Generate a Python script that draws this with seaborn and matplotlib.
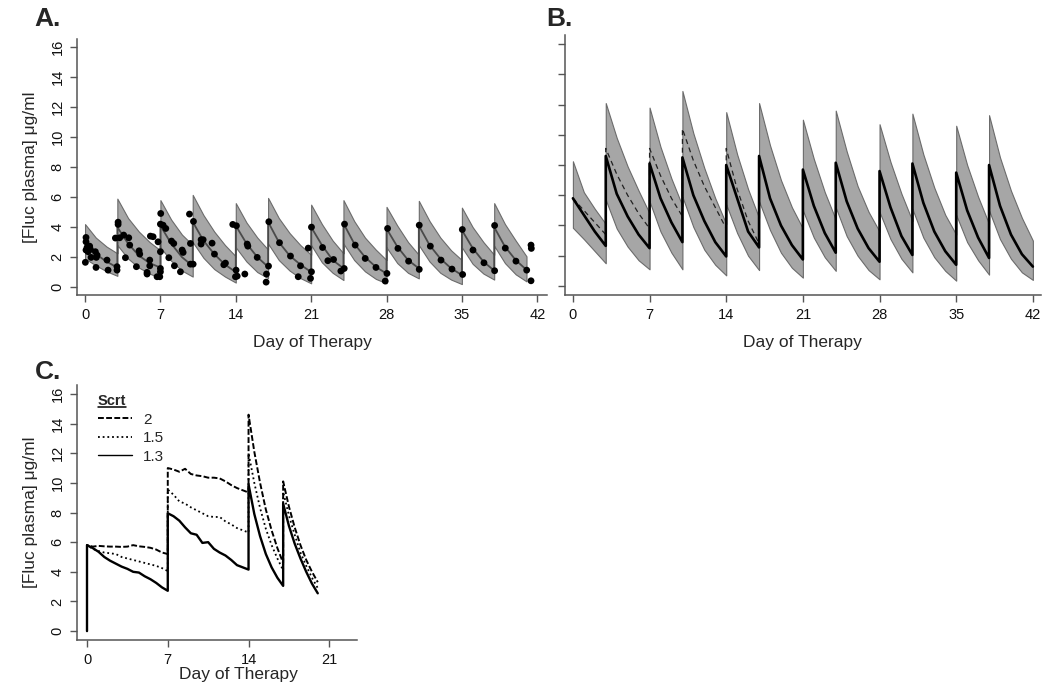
import matplotlib
matplotlib.use('Agg')
import matplotlib.pyplot as plt
from matplotlib.lines import Line2D
import seaborn as sns

# ---------------- data ----------------
# Panel A: prediction band (daily points, dose days repeated for the jumps)
a_time = [0, 1, 2, 3, 3, 4, 5, 6, 7, 7, 8, 9, 10, 10, 11, 12, 13, 14,
          14, 15, 16, 17, 17, 18, 19, 20, 21, 21, 22, 23, 24, 24, 25, 26, 27, 28,
          28, 29, 30, 31, 31, 32, 33, 34, 35, 35, 36, 37, 38, 38, 39, 40, 41]
a_hi = [4.2, 3.3, 2.7, 2.25, 5.9, 4.6, 3.7, 3.0, 2.45, 5.8, 4.5, 3.5, 2.8,
        6.15, 4.8, 3.7, 2.8, 2.05, 5.6, 4.3, 3.3, 2.5, 5.95, 4.6, 3.6, 2.8, 2.15,
        5.5, 4.2, 3.1, 2.25, 5.8, 4.4, 3.3, 2.5, 1.8, 5.35, 4.1, 3.0, 2.15,
        5.75, 4.4, 3.3, 2.45, 1.8, 5.3, 4.0, 3.0, 2.15, 5.6, 4.2, 3.1, 2.05]
a_lo = [1.9, 1.45, 1.05, 0.75, 2.8, 1.9, 1.3, 0.9, 0.6, 2.65, 1.75, 1.1, 0.7,
        3.0, 1.95, 1.2, 0.7, 0.3, 2.65, 1.7, 1.0, 0.6, 2.9, 1.8, 1.1, 0.6, 0.25,
        2.8, 1.65, 0.95, 0.47, 2.9, 1.8, 1.05, 0.55, 0.25, 2.65, 1.6, 0.95, 0.58,
        2.8, 1.7, 0.95, 0.5, 0.2, 2.65, 1.55, 0.9, 0.5, 2.75, 1.6, 0.85, 0.38]
a_med = [2.95, 2.2, 1.7, 1.3, 4.0, 2.9, 2.1, 1.6, 1.3, 4.1, 2.9, 2.0, 1.4,
         4.35, 3.1, 2.2, 1.5, 1.0, 4.1, 2.9, 2.0, 1.35, 4.35, 3.0, 2.1, 1.5, 1.0,
         4.0, 2.8, 1.8, 1.25, 4.25, 2.9, 2.0, 1.35, 0.9, 3.9, 2.7, 1.8, 1.25,
         4.1, 2.8, 1.9, 1.25, 0.8, 3.8, 2.6, 1.7, 1.1, 4.0, 2.7, 1.8, 1.15]

# Panel A: observed concentrations
obs_day = [0.09, 0.09, 0.19, 0.43, 0.09, 0.28, 0.5, 0.56, 0.96, 1.05, 1.12, 0.03,
           1.02, 2.04, 2.14, 2.97, 2.97,
           3.07, 3.07, 2.82, 3.22, 3.59, 4.06, 3.75, 4.15, 5.02, 5.08, 4.77, 6.07,
           6.32, 6.78, 6.01, 6.01, 5.76, 5.76, 6.69, 6.94, 7.0, 7.0,
           7.03, 7.0, 7.25, 7.5, 7.0, 8.03, 8.24, 7.78, 8.3, 9.02, 9.11, 8.86, 9.7,
           9.79, 9.79, 10.04,
           10.07, 10.78, 10.97, 10.78, 11.8, 12.02, 12.89, 13.04, 13.72, 14.06,
           14.03, 13.97, 14.13, 14.84, 15.06, 15.12, 15.99, 16.85, 16.82, 17.04,
           17.07, 18.06, 19.08, 19.8, 20.01, 20.73, 21.03, 21.03, 20.94,
           22.06, 22.55, 23.08, 23.76, 24.07, 24.1, 25.09, 26.02, 27.02, 28.04,
           27.88, 28.1, 29.06, 30.05, 31.04, 31.04, 32.07, 33.06, 34.08, 35.04,
           35.07, 36.03, 37.05, 38.04, 38.04, 39.03, 40.02, 41.02, 41.42, 41.45, 41.42]
obs_conc = [3.31, 3.02, 2.65, 2.73, 2.47, 2.36, 2.51, 1.98, 2.36, 1.98, 2.13, 1.65,
            1.31, 1.8, 1.13, 1.36, 1.13,
            4.33, 4.18, 3.27, 3.29, 3.47, 3.29, 1.96, 2.8, 2.42, 2.2, 1.36, 3.4,
            3.36, 3.02, 1.8, 1.42, 0.98, 0.87, 0.69, 0.69, 1.24, 1.02,
            4.91, 4.2, 4.13, 3.91, 2.36, 3.07, 2.91, 1.96, 1.42, 2.47, 2.31, 1.02, 4.87,
            2.91, 1.53, 1.53,
            4.38, 3.16, 3.16, 2.87, 2.93, 2.2, 1.49, 1.6, 4.18, 4.09,
            1.13, 0.69, 0.73, 0.87, 2.87, 2.73, 1.98, 0.87, 0.33, 1.4,
            4.36, 2.96, 2.07, 0.69, 1.42, 2.6, 4.0, 1.02, 0.58,
            2.64, 1.76, 1.84, 1.07, 1.24, 4.2, 2.8, 1.91, 1.31, 0.91,
            0.4, 3.91, 2.58, 1.73, 4.13, 1.18, 2.73, 1.8, 1.2, 3.84,
            0.84, 2.47, 1.62, 1.09, 4.11, 2.6, 1.73, 1.13, 2.8, 2.58, 0.42]

# Panel B: simulated band, median and comparison (dashed) profile
b_time = [0, 1, 2, 3, 3, 4, 5, 6, 7, 7, 8, 9, 10, 10, 11, 12, 13, 14,
          14, 15, 16, 17, 17, 18, 19, 20, 21, 21, 22, 23, 24, 24, 25, 26, 27, 28,
          28, 29, 30, 31, 31, 32, 33, 34, 35, 35, 36, 37, 38, 38, 39, 40, 41, 42]
b_hi = [8.25, 6.2, 5.1, 4.1, 12.1, 9.8, 7.9, 6.3, 4.8, 11.8, 9.2, 7.1, 5.3,
        12.9, 10.1, 7.8, 5.8, 4.1, 11.5, 8.7, 6.4, 4.5, 12.1, 9.3, 7.0, 5.2, 3.8,
        11.0, 8.4, 6.2, 4.4, 11.6, 8.9, 6.6, 4.9, 3.6, 10.7, 8.2, 6.1, 4.3,
        11.4, 8.7, 6.5, 4.7, 3.4, 10.6, 8.0, 5.9, 4.1, 11.3, 8.5, 6.3, 4.5, 3.0]
b_lo = [3.85, 3.1, 2.3, 1.5, 5.7, 3.8, 2.6, 1.7, 1.1, 5.6, 3.6, 2.2, 1.1,
        5.9, 3.9, 2.4, 1.4, 0.7, 5.4, 3.5, 2.0, 1.05, 5.6, 3.7, 2.2, 1.2, 0.55,
        5.0, 3.2, 1.9, 1.0, 5.2, 3.3, 2.0, 1.05, 0.44, 4.9, 3.1, 1.8, 0.9,
        5.1, 3.2, 1.9, 1.0, 0.35, 4.7, 2.9, 1.7, 0.75, 5.0, 3.1, 1.8, 0.9, 0.4]
b_med = [5.8, 4.7, 3.6, 2.65, 8.6, 6.1, 4.6, 3.4, 2.5, 8.1, 5.8, 4.2, 2.9,
         8.5, 6.0, 4.3, 2.9, 1.95, 8.0, 5.8, 3.6, 2.55, 8.6, 5.8, 4.0, 2.7, 1.75,
         7.7, 5.3, 3.5, 2.2, 8.15, 5.6, 3.8, 2.5, 1.6, 7.6, 5.2, 3.3, 2.05,
         8.1, 5.5, 3.6, 2.3, 1.4, 7.5, 5.0, 3.2, 1.85, 8.0, 5.3, 3.4, 2.1, 1.28]
b_dash_time = [0, 1, 2, 3, 3, 4, 5, 6, 7, 7, 8, 9, 10, 10, 11, 12, 13, 14,
               14, 15, 16, 17]
b_dash = [5.8, 5.0, 4.2, 3.4, 9.1, 7.4, 6.0, 4.8, 3.8, 9.1, 7.3, 5.8, 4.6,
          10.4, 8.3, 6.6, 5.2, 3.8, 9.1, 6.4, 4.3, 2.8]

# Panel C: profiles by serum creatinine
c_time = [0, 0, 0.5, 1, 1.5, 2, 2.5, 3, 3.5, 4, 4.5, 5, 5.5, 6, 6.5, 7,
          7, 7.5, 8, 8.5, 9, 9.5, 10, 10.5, 11, 11.5, 12, 12.5, 13, 13.5, 14,
          14, 14.5, 15, 15.5, 16, 16.5, 17, 17, 17.5, 18, 18.5, 19, 19.5, 20]
scrt_2 = [0, 5.8, 5.7, 5.75, 5.72, 5.7, 5.7, 5.68, 5.7, 5.8, 5.72, 5.68, 5.62, 5.5, 5.3, 5.2,
          11.0, 10.9, 10.75, 10.95, 10.6, 10.5, 10.45, 10.35, 10.35, 10.3, 10.1, 9.85,
          9.65, 9.5, 9.35,
          14.6, 12.1, 10.0, 8.2, 6.8, 5.6, 4.6, 10.1, 8.4, 7.0, 5.8, 4.8, 4.0, 3.3]
scrt_15 = [0, 5.8, 5.55, 5.4, 5.3, 5.25, 5.2, 5.0, 4.9, 4.8, 4.7, 4.6, 4.5, 4.4, 4.25, 4.05,
           9.55, 9.2, 8.75, 8.6, 8.35, 8.15, 7.95, 7.75, 7.7, 7.7, 7.4, 7.2, 6.95, 6.8, 6.65,
           12.0, 10.0, 8.3, 6.9, 5.8, 4.9, 4.1, 9.4, 7.8, 6.5, 5.3, 4.4, 3.6, 2.9]
scrt_13 = [0, 5.8, 5.6, 5.35, 5.0, 4.75, 4.55, 4.35, 4.2, 4.0, 3.95, 3.7, 3.5, 3.25, 2.95, 2.72,
           7.95, 7.75, 7.45, 7.0, 6.6, 6.5, 5.95, 6.0, 5.55, 5.3, 5.1, 4.8, 4.45, 4.3, 4.15,
           9.9, 7.9, 6.4, 5.2, 4.3, 3.6, 3.05, 8.6, 7.1, 5.9, 4.9, 4.0, 3.2, 2.55]

day_ticks = [0, 7, 14, 21, 28, 35, 42]
conc_ticks = [0, 2, 4, 6, 8, 10, 12, 14, 16]

# ---------------- style ----------------
sns.set_style('ticks')
plt.rcParams['font.family'] = ['Liberation Sans', 'DejaVu Sans']
axis_grey = '#555555'
band_fill = '#a6a6a6'
band_edge = '#6b6b6b'

fig = plt.figure(figsize=(10.5, 6.94), dpi=100)
axA = fig.add_axes([0.0733, 0.5749, 0.4476, 0.3689])
axB = fig.add_axes([0.538, 0.5749, 0.4533, 0.3746])
axC = fig.add_axes([0.0733, 0.0778, 0.2667, 0.3674])


def style_axis(ax, xticks):
    sns.despine(ax=ax)
    for side in ['left', 'bottom']:
        ax.spines[side].set_color(axis_grey)
        ax.spines[side].set_linewidth(1.1)
    ax.set_xticks(xticks)
    ax.set_yticks(conc_ticks)
    ax.tick_params(direction='out', length=5, width=1, color=axis_grey,
                   labelsize=10.5, labelcolor='#111111', pad=4)
    ax.tick_params(axis='y', labelrotation=90)
    plt.setp(ax.get_yticklabels(), va='center')


# Panel A
axA.fill_between(a_time, a_lo, a_hi, facecolor=band_fill, edgecolor=band_edge,
                 linewidth=0.8, zorder=1)
sns.lineplot(x=a_time, y=a_med, estimator=None, sort=False, color='#4a4a4a',
             linewidth=1.3, ax=axA, zorder=2)
sns.scatterplot(x=obs_day, y=obs_conc, color='black', s=24, edgecolor='none',
                ax=axA, zorder=3)
axA.set_xlim(-0.75, 42.9)
axA.set_ylim(-0.53, 16.55)
style_axis(axA, day_ticks)
axA.set_xlabel('Day of Therapy', fontsize=12.5, labelpad=10)
axA.set_ylabel('[Fluc plasma] μg/ml', fontsize=12.5, labelpad=9)

# Panel B
axB.fill_between(b_time, b_lo, b_hi, facecolor=band_fill, edgecolor=band_edge,
                 linewidth=0.8, zorder=1)
sns.lineplot(x=b_dash_time, y=b_dash, estimator=None, sort=False, color='#222222',
             linewidth=0.9, linestyle=(0, (4, 3)), ax=axB, zorder=2)
sns.lineplot(x=b_time, y=b_med, estimator=None, sort=False, color='black',
             linewidth=1.9, ax=axB, zorder=3)
axB.set_xlim(-0.73, 42.73)
axB.set_ylim(-0.6, 16.6)
style_axis(axB, day_ticks)
axB.tick_params(axis='y', labelleft=False)
axB.set_xlabel('Day of Therapy', fontsize=12.5, labelpad=10)
axB.set_ylabel('')

# Panel C
sns.lineplot(x=c_time, y=scrt_2, estimator=None, sort=False, color='black',
             linewidth=1.4, linestyle=(0, (3, 1.2)), ax=axC)
sns.lineplot(x=c_time, y=scrt_15, estimator=None, sort=False, color='black',
             linewidth=1.3, linestyle=(0, (1, 1.6)), ax=axC)
sns.lineplot(x=c_time, y=scrt_13, estimator=None, sort=False, color='black',
             linewidth=1.7, ax=axC)
axC.set_xlim(-0.87, 23.4)
axC.set_ylim(-0.6, 16.6)
style_axis(axC, [0, 7, 14, 21])
axC.set_xlabel('Day of Therapy', fontsize=12.5, labelpad=0)
axC.xaxis.set_label_coords(0.575, -0.105)
axC.set_ylabel('[Fluc plasma] μg/ml', fontsize=12.5, labelpad=9)

handles = [Line2D([], [], color='black', lw=1.4, linestyle=(0, (3, 1.2))),
           Line2D([], [], color='black', lw=1.3, linestyle=(0, (1, 1.6))),
           Line2D([], [], color='black', lw=1.0)]
leg = axC.legend(handles, ['2', '1.5', '1.3'], title='Scrt', loc='upper left',
                 bbox_to_anchor=(0.075, 0.965), frameon=False, fontsize=11,
                 handlelength=2.2, handletextpad=0.75, labelspacing=0.3,
                 alignment='left', borderaxespad=0, borderpad=0)
leg.get_title().set_fontweight('bold')
leg.get_title().set_fontsize(10.5)

# panel letters
fig.text(0.033, 0.973, 'A.', fontsize=19, fontweight='bold', va='center')
fig.text(0.520, 0.973, 'B.', fontsize=19, fontweight='bold', va='center')
fig.text(0.033, 0.464, 'C.', fontsize=19, fontweight='bold', va='center')

# underline the legend title
fig.canvas.draw()
tb = leg.get_title().get_window_extent().transformed(fig.transFigure.inverted())
fig.add_artist(Line2D([tb.x0, tb.x1], [tb.y0 + 0.001, tb.y0 + 0.001],
                      transform=fig.transFigure, color='black', lw=1.1))

fig.savefig('out.png', dpi=100)
